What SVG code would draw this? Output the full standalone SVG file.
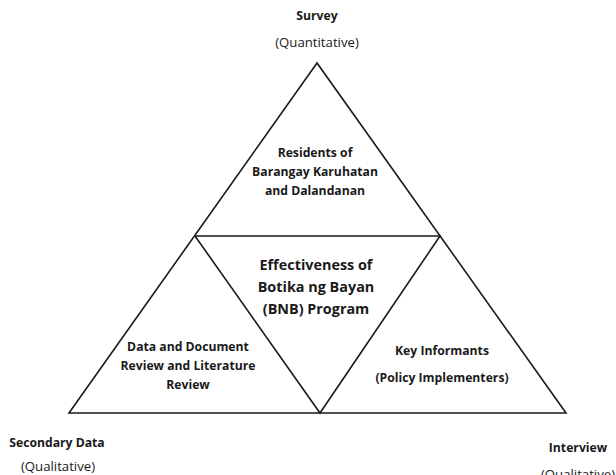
<svg xmlns="http://www.w3.org/2000/svg" width="616" height="475" viewBox="0 0 616 475">
<style>
.ln{fill:none;stroke:#1a1a1a;stroke-width:1.6;stroke-linejoin:miter}
text{font-family:"Open Sans","Liberation Sans",Arial,sans-serif;fill:#1a1a1a;text-anchor:middle}
.b{font-weight:bold;font-size:12.2px}
.r{font-size:13.2px}
.c{font-weight:bold;font-size:14.4px}
</style>
<rect width="616" height="475" fill="#fff"/>
<g id="connectors">
<polygon class="ln" points="317,63 69,413 566,413"/>
<polyline class="ln" points="195,236 440,236 320,413 195,236"/>
</g>
<g id="survey-label">
<text class="b" x="317" y="20">Survey</text>
<text class="r" x="317" y="47">(Quantitative)</text>
</g>
<g id="top">
<text class="b" x="315" y="157">Residents of</text>
<text class="b" x="315" y="176">Barangay Karuhatan</text>
<text class="b" x="315" y="195">and Dalandanan</text>
</g>
<g id="center">
<text class="c" x="316" y="270">Effectiveness of</text>
<text class="c" x="316" y="292">Botika ng Bayan</text>
<text class="c" x="316" y="314">(BNB) Program</text>
</g>
<g id="left">
<text class="b" x="188" y="351">Data and Document</text>
<text class="b" x="188" y="370">Review and Literature</text>
<text class="b" x="188" y="389">Review</text>
</g>
<g id="right">
<text class="b" x="442" y="355">Key Informants</text>
<text class="b" x="442" y="382">(Policy Implementers)</text>
</g>
<g id="secondary-label">
<text class="b" x="57" y="447">Secondary Data</text>
<text class="r" x="58" y="471">(Qualitative)</text>
</g>
<g id="interview-label">
<text class="b" x="578" y="452">Interview</text>
<text class="r" x="578" y="479">(Qualitative)</text>
</g>
</svg>
